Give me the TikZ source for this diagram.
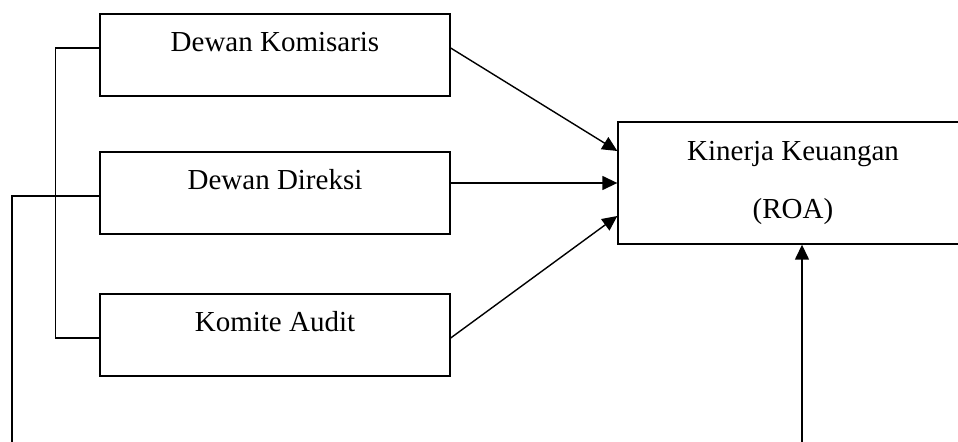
\documentclass[tikz,border=0pt]{standalone}
\usepackage{fontspec}
\setmainfont{Liberation Serif}
\usetikzlibrary{arrows.meta}
\begin{document}
\begin{tikzpicture}[x=0.02cm,y=-0.02cm,line width=0.8pt,
box/.style={draw,inner sep=0pt,minimum width=7cm,text height=0.76cm,text depth=0.88cm,font=\fontsize{16.5}{20}\selectfont},
arr/.style={-{Triangle[length=0.3cm,width=0.28cm]}}]
\useasboundingbox(0,0)rectangle(958,442);
\node[box](kom)at(275,55){Dewan Komisaris};
\node[box](dir)at(275,193){Dewan Direksi};
\node[box](aud)at(275,335){Komite Audit};
\node[draw,inner sep=0pt,minimum width=7cm,minimum height=2.44cm,align=center,font=\fontsize{16.5}{33.5}\selectfont](kin)at(793,183){Kinerja Keuangan\\(ROA)};
\coordinate(lft)at(12,442);
\coordinate(bot)at(802,442);
\draw[arr]([yshift=0.14cm]kom.east)--([yshift=0.64cm]kin.west);
\draw[arr](dir.east|-kin.west)--(kin.west);
\draw[arr]([yshift=-0.06cm]aud.east)--([yshift=-0.66cm]kin.west);
\draw([yshift=0.14cm]kom.west)--++(-44,0)|-([yshift=-0.06cm]aud.west);
\draw(lft)|-([yshift=-0.06cm]dir.west);
\draw[arr](bot)--(bot|-kin.south);
\end{tikzpicture}
\end{document}
